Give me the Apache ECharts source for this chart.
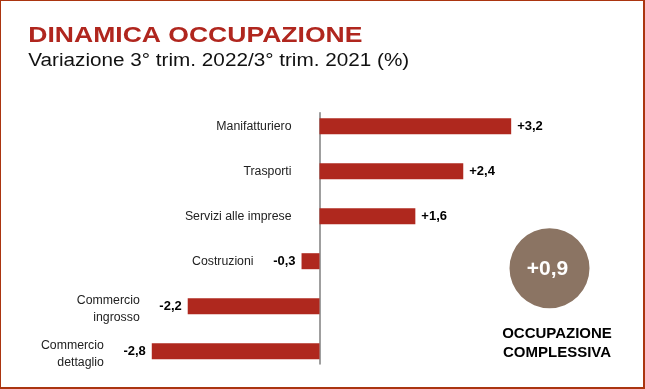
<!DOCTYPE html>
<html>
<head>
<meta charset="utf-8">
<script src="https://cdn.jsdelivr.net/npm/echarts@6/dist/echarts.min.js"></script>
<style>
  html, body { margin: 0; padding: 0; background: #fff; }
  #wrap { position: relative; width: 645px; height: 389px; }
  #chart { position: absolute; left: 0; top: 0; width: 645px; height: 389px; }
  #frame { position: absolute; left: 0; top: 0; width: 645px; height: 389px; box-sizing: border-box;
           border-style: solid; border-color: #ab3510; border-width: 1px 2px 2px 1px; pointer-events: none; }
</style>
</head>
<body>
<div id="wrap"><div id="chart"></div><div id="frame"></div></div>
<script>
// ---- data ----
const titleText = 'DINAMICA OCCUPAZIONE';
const subtitleText = 'Variazione 3° trim. 2022/3° trim. 2021 (%)';
const categories = ['Manifatturiero', 'Trasporti', 'Servizi alle imprese', 'Costruzioni', 'Commercio\ningrosso', 'Commercio\ndettaglio'];
const values = [3.2, 2.4, 1.6, -0.3, -2.2, -2.8];
const totalName = 'OCCUPAZIONE\nCOMPLESSIVA';
const totalValue = 0.9;

// ---- chart ----
const FONT = '"Liberation Sans", Arial, sans-serif';
const fmt = v => (v > 0 ? '+' : '') + v.toFixed(1).replace('.', ',');
const RED = '#af281e';

const chart = echarts.init(document.getElementById('chart'), null, { renderer: 'canvas' });
const gridLR = { left: 139.8, right: 115.85 };

chart.setOption({
  animation: false,
  textStyle: { fontFamily: FONT },
  grid: [
    { left: gridLR.left, right: gridLR.right, top: 103.7, bottom: 15.3 },
    { left: gridLR.left, right: gridLR.right, top: 112.7, bottom: 25 }
  ],
  xAxis: [
    { gridIndex: 0, type: 'value', min: -3, max: 3.5, show: false },
    { gridIndex: 1, type: 'value', min: -3, max: 3.5, show: false }
  ],
  yAxis: [
    { gridIndex: 0, type: 'category', data: categories, inverse: true, show: false },
    { gridIndex: 1, type: 'category', data: categories, inverse: true,
      axisLine: { show: true, onZero: true, lineStyle: { color: '#7f7f7f', width: 1.5 } },
      axisTick: { show: false }, axisLabel: { show: false }, splitLine: { show: false } }
  ],
  graphic: [
    { type: 'text', x: 28.3, y: 35.5, scaleX: 1.206, silent: true,
      style: { text: titleText, font: 'bold 22px ' + FONT, fill: '#b0261e', verticalAlign: 'middle' } },
    { type: 'text', x: 28.3, y: 60.7, scaleX: 1.15, silent: true,
      style: { text: subtitleText, font: '18px ' + FONT, fill: '#111', verticalAlign: 'middle' } },
    { type: 'text', x: 557, y: 323.9, silent: true,
      style: { text: totalName, font: 'bold 15px ' + FONT, fill: '#000', align: 'center', verticalAlign: 'top', lineHeight: 19.6 } }
  ],
  series: [
    {
      type: 'bar', xAxisIndex: 0, yAxisIndex: 0, barWidth: 16, barGap: '-100%', silent: true,
      itemStyle: { color: RED },
      label: { show: true, distance: 6, fontSize: 13, fontWeight: 'bold', color: '#000',
               formatter: p => fmt(p.value) },
      data: values.map(v => ({ value: v, label: { position: v >= 0 ? 'right' : 'left' } }))
    },
    {
      type: 'bar', xAxisIndex: 0, yAxisIndex: 0, barWidth: 16, barGap: '-100%', silent: true,
      itemStyle: { color: 'rgba(0,0,0,0)' },
      label: { show: true, position: 'left', fontSize: 12.3, color: '#222', lineHeight: 17,
               formatter: p => p.name },
      data: values.map((v, i) => ({ value: v, label: {
        distance: v < 0 ? 48 : 28,
        offset: categories[i].indexOf('\n') >= 0 ? [0, 3] : [0, 0] } }))
    },
    {
      type: 'pie', center: [549.5, 268.3], radius: 40, silent: true,
      emphasis: { disabled: true },
      itemStyle: { color: '#8b7463' },
      label: { show: true, position: 'center', formatter: () => fmt(totalValue),
               color: '#fff', fontSize: 21, fontWeight: 'bold', offset: [-2, 1] },
      labelLine: { show: false },
      data: [{ value: totalValue, name: 'totale' }]
    }
  ]
});
</script>
</body>
</html>
